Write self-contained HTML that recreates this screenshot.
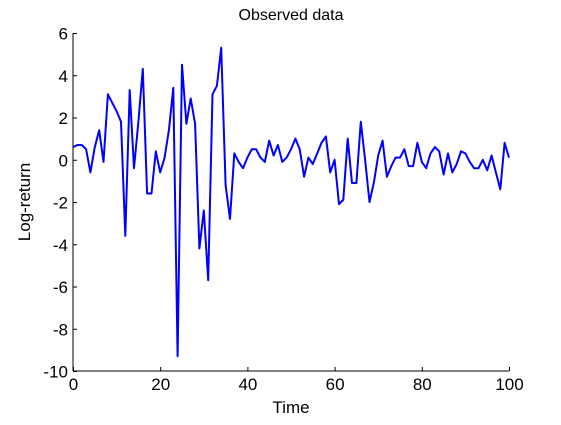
<!DOCTYPE html>
<html><head><style>body{margin:0;background:#fff}svg{font-family:"Liberation Sans",sans-serif}</style></head>
<body>
<svg id="c" width="561" height="420"></svg>
<script>
const xTicks=[0,20,40,60,80,100];
const yTicks=[-10,-8,-6,-4,-2,0,2,4,6];
const values=[0.6,0.7,0.7,0.5,-0.6,0.6,1.4,-0.1,3.1,2.7,2.3,1.8,-3.6,3.3,-0.4,1.8,4.3,-1.6,-1.6,0.4,-0.6,0.1,1.4,3.4,-9.3,4.5,1.7,2.9,1.7,-4.2,-2.4,-5.7,3.1,3.5,5.3,-1.2,-2.8,0.3,-0.1,-0.4,0.1,0.5,0.5,0.1,-0.1,0.9,0.2,0.7,-0.1,0.1,0.5,1.0,0.5,-0.8,0.1,-0.2,0.3,0.8,1.1,-0.6,0.0,-2.1,-1.9,1.0,-1.1,-1.1,1.8,0.0,-2.0,-1.1,0.2,0.9,-0.8,-0.3,0.1,0.1,0.5,-0.3,-0.3,0.8,-0.1,-0.4,0.3,0.6,0.4,-0.7,0.3,-0.6,-0.2,0.4,0.3,-0.1,-0.4,-0.4,0.0,-0.5,0.2,-0.6,-1.4,0.8,0.1];
const L=73,R=509,T=33,B=371;
const sx=v=>L+(v-0)/(100-0)*(R-L);
const sy=v=>B-(v+10)/16*(B-T);
const svg=document.getElementById('c');const NS='http://www.w3.org/2000/svg';
function mk(t,a,txt){const e=document.createElementNS(NS,t);for(const k in a)e.setAttribute(k,a[k]);if(txt!==undefined)e.textContent=txt;svg.appendChild(e);return e;}
let e=mk('line',{x1:L,y1:B,x2:R,y2:B,stroke:'#000'});


e=mk('line',{x1:L,y1:T,x2:L,y2:B,stroke:'#000'});


xTicks.forEach(v=>{const x=sx(v)+0.5;
e=mk('line',{x1:x,y1:B,x2:x,y2:B-4,stroke:'#000'});


e=mk('text',{x:x,y:B+19,'text-anchor':'middle','font-size':17},v);

});
yTicks.forEach(v=>{const y=sy(v)+0.5;
e=mk('line',{x1:L,y1:y,x2:L+4,y2:y,stroke:'#000'});


e=mk('text',{x:L-5,y:y+6,'text-anchor':'end','font-size':17},v);

});
const pts=values.map((v,i)=>sx(i).toFixed(1)+','+sy(v).toFixed(1)).join(' ');
e=mk('polyline',{points:pts,fill:'none',stroke:'#0000ff','stroke-width':2,'stroke-linejoin':'round'});


e=mk('text',{x:291,y:20,'text-anchor':'middle','font-size':16},'Observed data');


e=mk('text',{x:291,y:413,'text-anchor':'middle','font-size':17},'Time');


e=mk('text',{x:0,y:0,'text-anchor':'middle','font-size':17,transform:'translate(30,202) rotate(-90)'},'Log-return');


</script>
</body></html>
